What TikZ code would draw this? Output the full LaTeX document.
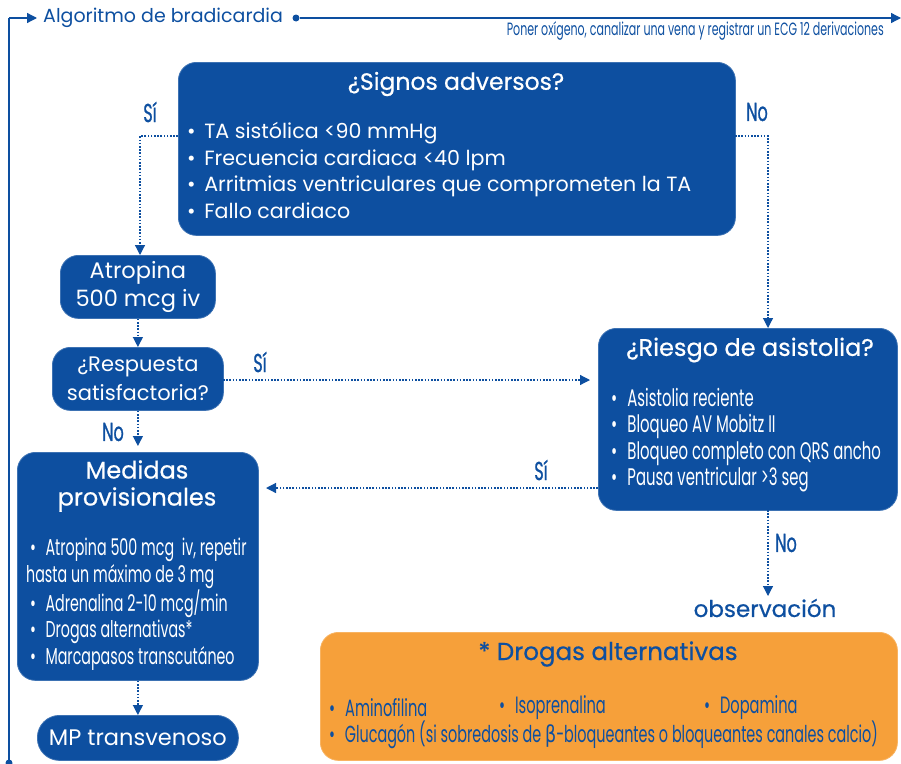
\documentclass[tikz,border=0pt]{standalone}
\usepackage{fontspec}
\setmainfont{Poppins}
\newfontfamily\cond[FakeStretch=0.62]{Poppins}
\newfontfamily\condb[FakeStretch=0.62,FakeBold=0.8]{Poppins}
\newfontfamily\head[FakeBold=0.6]{Poppins}
\newfontfamily\greek[FakeStretch=0.75]{DejaVu Sans}
\newcommand\bu{•\hspace{0.42em}}
\usetikzlibrary{arrows.meta,calc}
\definecolor{bblue}{HTML}{0D4FA0}
\definecolor{borange}{HTML}{F6A03A}
\tikzset{
  box/.style={fill=bblue,draw=bblue!80!white,line width=0.8pt,rounded corners=18pt,anchor=north west,inner sep=0pt},
  obox/.style={fill=borange,draw=borange!80!white,line width=0.8pt,rounded corners=18pt,anchor=north west,inner sep=0pt},
  wtxt/.style={text=white,inner sep=0pt},
  btxt/.style={text=bblue,inner sep=0pt},
  lbl/.style={text=bblue,inner sep=0pt,font=\condb\fontsize{26}{28}\selectfont},
  dotarrow/.style={draw=bblue,line width=1.2pt,dash pattern=on 1.6pt off 1.6pt,-{Triangle[width=10pt,length=10pt]}},
  solidarrow/.style={draw=bblue,line width=1.3pt,-{Triangle[width=10pt,length=10pt]}},
}
\begin{document}
\begin{tikzpicture}[x=1pt,y=-1pt]
\useasboundingbox (0,0) rectangle (901,763);
% boxes
\node[box,minimum width=557pt,minimum height=173pt] (signos) at (178,62) {};
\node[box,minimum width=155pt,minimum height=63pt] (atropina) at (60,255) {};
\node[box,minimum width=171pt,minimum height=63pt] (resp) at (52,347) {};
\node[box,minimum width=241pt,minimum height=228pt] (medidas) at (17,452) {};
\node[box,rounded corners=22pt,minimum width=201pt,minimum height=45pt] (mp) at (37,715) {};
\node[box,minimum width=299pt,minimum height=182pt] (riesgo) at (598,328) {};
\node[obox,minimum width=577pt,minimum height=128pt] (drogas) at (320,632) {};
% header
\node[circle,fill=bblue,inner sep=0pt,minimum size=7pt] (bottomdot) at (9,763) {};
\coordinate (topleft) at (9,18);
\node[btxt,anchor=west,font=\fontsize{19}{22}\selectfont] (title) at (43,18) {Algoritmo de bradicardia};
\node[circle,fill=bblue,inner sep=0pt,minimum size=7pt] (dot) at (296,18) {};
\coordinate (topright) at (901,18);
\draw[bblue,line width=1.3pt] (bottomdot.center) -- (topleft);
\draw[solidarrow,shorten >=6pt] (topleft) -- (title.west);
\draw[solidarrow] (dot) -- (topright);
\node[btxt,anchor=east,font=\cond\fontsize{17.8}{20}\selectfont] (poner) at (884,31) {Poner oxígeno, canalizar una vena y registrar un ECG 12 derivaciones};
% signos text
\node[wtxt,font=\head\fontsize{23.5}{28}\selectfont] (signosT) at (456,84) {¿Signos adversos?};
\node[wtxt,anchor=north west,align=left,font=\fontsize{20.6}{26.7}\selectfont] (signosB) at (187,122) {\bu TA sistólica <90 mmHg\\\bu Frecuencia cardiaca <40 lpm\\\bu Arritmias ventriculares que comprometen la TA\\\bu Fallo cardiaco};
% atropina
\node[wtxt,align=center,font=\fontsize{22.5}{28}\selectfont] (atropinaT) at (atropina.center) {Atropina\\500 mcg iv};
\node[wtxt,align=center,font=\fontsize{21}{29}\selectfont] (respT) at (resp.center) {¿Respuesta\\satisfactoria?};
\node[wtxt,align=center,font=\head\fontsize{24}{27}\selectfont] (medT) at (137,486) {Medidas\\provisionales};
\node[wtxt,anchor=north west,align=left,font=\cond\fontsize{23}{26.7}\selectfont] (medB) at (26,538) {\ \bu Atropina 500 mcg\ \ iv, repetir\\hasta un máximo de 3 mg\\\ \bu Adrenalina 2-10 mcg/min\\\ \bu Drogas alternativas*\\\ \bu Marcapasos transcutáneo};
\node[wtxt,font=\fontsize{22.5}{26}\selectfont] (mpT) at (mp.center) {MP transvenoso};
\node[wtxt,font=\head\fontsize{24}{26}\selectfont] (riesgoT) at (750,350) {¿Riesgo de asistolia?};
\node[wtxt,anchor=north west,align=left,font=\cond\fontsize{24}{26.3}\selectfont] (riesgoB) at (611,388) {\bu Asistolia reciente\\\bu Bloqueo AV Mobitz II\\\bu Bloqueo completo con QRS ancho\\\bu Pausa ventricular >3 seg};
\node[btxt,font=\head\fontsize{23}{26}\selectfont] (obs) at (765,608) {observación};
\node[btxt,font=\head\fontsize{24.5}{26}\selectfont] (drogasT) at (608,654) {* Drogas alternativas};
\node[btxt,anchor=west,font=\cond\fontsize{23.6}{26}\selectfont] (d1) at (329,708) {\bu Aminofilina};
\node[btxt,anchor=west,font=\cond\fontsize{23.6}{26}\selectfont] (d2) at (499,708) {\bu Isoprenalina};
\node[btxt,anchor=west,font=\cond\fontsize{23.6}{26}\selectfont] (d3) at (704,708) {\bu Dopamina};
\node[btxt,anchor=west,font=\cond\fontsize{23.2}{26}\selectfont] (d4) at (329,735) {\bu Glucagón (si sobredosis de {\greek β}-bloqueantes o bloqueantes canales calcio)};
% labels
\node[lbl] (si1) at (150,112) {Sí};
\node[lbl] (no1) at (757,112) {No};
\node[lbl] (si2) at (260,362) {Sí};
\node[lbl] (no2) at (113,432) {No};
\node[lbl] (si3) at (541,470) {Sí};
\node[lbl] (no3) at (786,543) {No};
% connectors
\coordinate (sL) at (178,136);
\coordinate (sR) at (735,136);
\coordinate (riesgoIn) at (768,328);
\coordinate (riesgoOut) at (768,510);
\coordinate (obsIn) at (768,596);
\coordinate (atrIn) at (140,255);
\draw[dotarrow] (sL) -| (atrIn);
\draw[dotarrow] (sR) -| (riesgoIn);
\draw[dotarrow] (atropina.south) -- (resp.north);
\coordinate (rE) at (223,380);
\coordinate (rW) at (590,380);
\draw[dotarrow] (rE) -- (rW);
\draw[dotarrow] (resp.south) -- ($(medidas.north)+(0,-6)$);
\coordinate (rsW) at (598,488);
\coordinate (mE) at (266,488);
\draw[dotarrow] (rsW) -- (mE);
\draw[dotarrow] (riesgoOut) -- (obsIn);
\draw[dotarrow] (medidas.south) -- (mp.north);
\end{tikzpicture}
\end{document}
